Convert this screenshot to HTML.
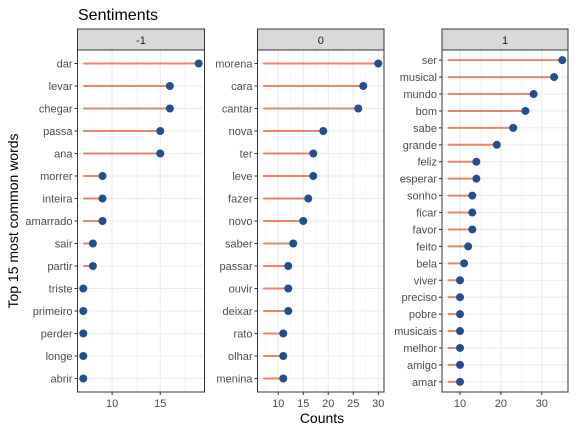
<!DOCTYPE html>
<html><head><meta charset="utf-8"><style>
body{margin:0;background:#fff;}
svg{display:block;font-family:"Liberation Sans",Arial,sans-serif;}
</style></head><body>
<svg id="chart" width="576" height="432" viewBox="0 0 576 432">
<text x="78" y="20" font-size="16" fill="#000">Sentiments</text>
<text x="322" y="423" font-size="14" text-anchor="middle" fill="#000">Counts</text>
<text transform="translate(18,221) rotate(-90)" font-size="14" text-anchor="middle" fill="#000">Top 15 most common words</text>
</svg>
<script>
const panelLabels = ["-1", "0", "1"];
const wordsNeg = ["dar","levar","chegar","passa","ana","morrer","inteira","amarrado","sair","partir","triste","primeiro","perder","longe","abrir"];
const countsNeg = [19,16,16,15,15,9,9,9,8,8,7,7,7,7,7];
const wordsNeu = ["morena","cara","cantar","nova","ter","leve","fazer","novo","saber","passar","ouvir","deixar","rato","olhar","menina"];
const countsNeu = [30,27,26,19,17,17,16,15,13,12,12,12,11,11,11];
const wordsPos = ["ser","musical","mundo","bom","sabe","grande","feliz","esperar","sonho","ficar","favor","feito","bela","viver","preciso","pobre","musicais","melhor","amigo","amar"];
const countsPos = [35,33,28,26,23,19,14,14,13,13,13,12,11,10,10,10,10,10,10,10];
const ticksNeg = [10,15];
const ticksNeu = [10,15,20,25,30];
const ticksPos = [10,20,30];
const baseline = 7;

const NS = "http://www.w3.org/2000/svg";
const svg = document.getElementById("chart");
function mk(tag, attrs, parent){
  const e = document.createElementNS(NS, tag);
  for (const k in attrs) e.setAttribute(k, attrs[k]);
  (parent||svg).appendChild(e);
  return e;
}
const top0 = 50, bot0 = 392;
const panels = [
  {x0:77.5, x1:204.5, words:wordsNeg, vals:countsNeg, ticks:ticksNeg},
  {x0:257.5, x1:384, words:wordsNeu, vals:countsNeu, ticks:ticksNeu},
  {x0:442, x1:568, words:wordsPos, vals:countsPos, ticks:ticksPos}
];
panels.forEach((p, pi) => {
  const g = mk("g", {});
  
  
  const vmin = Math.min(baseline, ...p.vals), vmax = Math.max(...p.vals);
  const pad = (vmax - vmin) * 0.05;
  const d0 = vmin - pad, d1 = vmax + pad;
  const xs = v => p.x0 + (v - d0) / (d1 - d0) * (p.x1 - p.x0);
  const n = p.words.length;
  const ys = i => top0 + (i + 0.6) * (bot0 - top0) / (n + 0.2);
  // strip
  const strip = mk("rect", {x:p.x0, y:29, width:p.x1-p.x0, height:21, fill:"#d9d9d9", stroke:"#333", "stroke-width":1}, g);
  
  
  const st = mk("text", {x:(p.x0+p.x1)/2, y:44, "font-size":11, "text-anchor":"middle", fill:"#1a1a1a"}, g);
  st.textContent = panelLabels[pi];
  
  
  // minor grid
  const step = p.ticks[1] - p.ticks[0];
  for (let t = p.ticks[0] - step/2; t <= d1; t += step) {
    if (t < d0) continue;
    mk("line", {x1:xs(t), x2:xs(t), y1:top0, y2:bot0, stroke:"#f2f2f2", "stroke-width":0.6}, g);
  }
  // major grid x
  p.ticks.forEach(t => {
    mk("line", {x1:xs(t), x2:xs(t), y1:top0, y2:bot0, stroke:"#ebebeb", "stroke-width":1.1}, g);
    mk("line", {x1:xs(t), x2:xs(t), y1:bot0, y2:bot0+3, stroke:"#333", "stroke-width":1}, g);
    const tl = mk("text", {x:xs(t), y:bot0+15, "font-size":11, "text-anchor":"middle", fill:"#4d4d4d"}, g);
    tl.textContent = t;
    
    
  });
  // horizontal grid + labels
  p.words.forEach((w, i) => {
    mk("line", {x1:p.x0, x2:p.x1, y1:ys(i), y2:ys(i), stroke:"#ebebeb", "stroke-width":1.1}, g);
    mk("line", {x1:p.x0-3, x2:p.x0, y1:ys(i), y2:ys(i), stroke:"#333", "stroke-width":1}, g);
    const yl = mk("text", {x:p.x0-5, y:ys(i)+4, "font-size":11, "text-anchor":"end", fill:"#4d4d4d"}, g);
    yl.textContent = w;
    
    
  });
  // lollipops
  p.vals.forEach((v, i) => {
    const seg = mk("line", {x1:xs(baseline), x2:xs(v), y1:ys(i), y2:ys(i), stroke:"#e8856c", "stroke-width":2}, g);
    
    
    const c = mk("circle", {cx:xs(v), cy:ys(i), r:4, fill:"#23508c"}, g);
    
    
  });
  const border = mk("rect", {x:p.x0, y:top0, width:p.x1-p.x0, height:bot0-top0, fill:"none", stroke:"#333", "stroke-width":1}, g);
  
  
});
</script>
</body></html>
